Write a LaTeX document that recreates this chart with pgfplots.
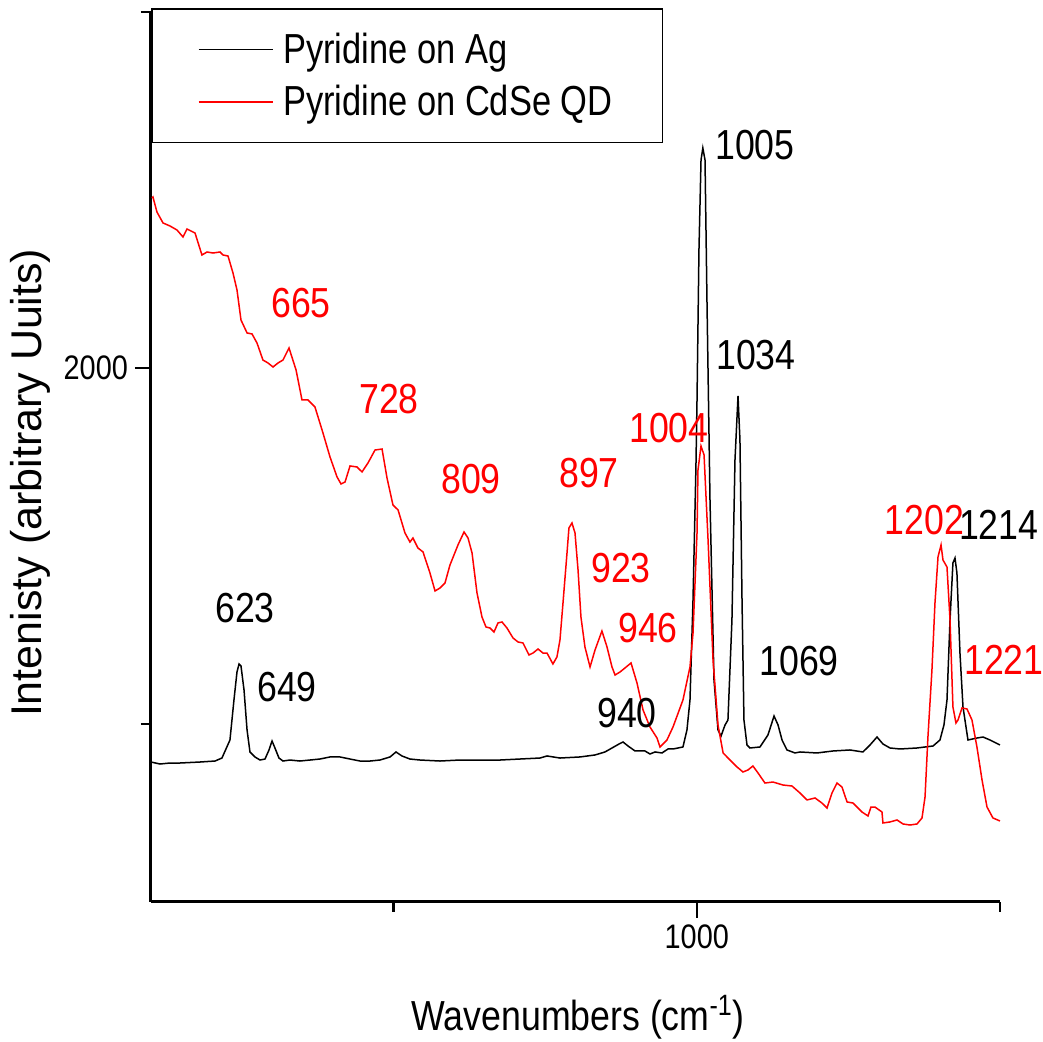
\documentclass[border=0pt]{standalone}
\usepackage{pgfplots}
\pgfplotsset{compat=1.18}
\usepackage{fontspec}
\setmainfont{Liberation Sans}[FakeStretch=0.85]
\newfontfamily\legfont{Liberation Sans}[FakeStretch=0.82]
\newfontfamily\ylabfont{Liberation Sans}

\definecolor{specred}{RGB}{255,0,0}

% Raman spectra of pyridine on Ag and on CdSe quantum dots
\pgfplotstableread{
x y
550.0 1446.6
557.4 1443.8
565.7 1445.2
573.9 1445.2
590.4 1446.6
602.8 1448.0
608.5 1452.2
615.1 1477.5
618.4 1533.7
620.9 1573.0
622.6 1584.3
624.2 1581.5
626.7 1547.8
629.2 1491.6
631.6 1460.7
635.7 1453.7
639.9 1449.4
644.0 1450.8
647.3 1463.5
649.8 1476.1
652.2 1466.3
655.5 1452.2
658.8 1448.0
664.6 1449.4
672.8 1448.0
681.1 1449.4
689.3 1450.8
697.6 1453.7
705.8 1453.7
714.1 1450.8
722.3 1448.0
730.6 1448.0
738.8 1449.4
747.1 1453.7
752.0 1460.7
756.9 1455.1
763.5 1450.8
771.8 1449.4
788.3 1448.0
804.8 1449.4
821.3 1449.4
837.8 1449.4
854.2 1450.8
870.7 1452.2
876.5 1455.1
887.2 1452.2
903.7 1453.7
916.1 1456.5
924.3 1460.7
930.1 1466.3
935.9 1471.9
939.2 1474.7
943.3 1469.1
949.1 1462.1
957.3 1462.1
961.4 1457.9
965.6 1460.7
971.3 1459.3
976.3 1464.9
980.4 1464.9
988.6 1467.7
991.9 1491.6
994.4 1533.7
996.9 1674.2
999.3 1861.0
1000.2 1955.1
1001.8 2165.7
1003.5 2292.1
1005.0 2309.0
1006.8 2292.1
1008.4 2095.5
1010.9 1814.6
1014.2 1561.8
1017.5 1491.6
1020.0 1483.1
1023.3 1498.6
1025.7 1505.6
1029.0 1646.1
1031.5 1870.8
1034.0 1960.7
1035.6 1898.9
1037.3 1674.2
1038.9 1505.6
1041.4 1470.5
1043.9 1466.3
1052.1 1467.7
1058.7 1484.6
1063.7 1511.2
1067.0 1498.6
1070.3 1477.5
1074.4 1463.5
1081.0 1459.3
1085.1 1460.7
1099.1 1459.3
1112.3 1462.1
1126.3 1463.5
1137.0 1460.7
1142.8 1470.5
1148.6 1481.7
1153.5 1471.9
1159.3 1466.3
1167.6 1464.9
1181.6 1466.3
1194.8 1469.1
1200.5 1477.5
1203.8 1498.6
1206.3 1533.7
1208.8 1646.1
1211.2 1726.1
1212.9 1733.1
1214.5 1712.1
1217.0 1599.7
1219.5 1523.9
1223.6 1477.5
1231.0 1480.3
1236.0 1481.7
1241.8 1477.5
1250.0 1470.5
}\agdata

\pgfplotstableread{
x y
550.8 2238.8
551.6 2240.2
554.9 2219.1
559.9 2203.7
565.7 2199.4
571.4 2193.8
576.4 2184.0
579.7 2195.2
586.3 2189.6
592.0 2158.7
596.2 2162.9
601.1 2161.5
606.9 2162.9
609.4 2158.7
613.5 2157.3
617.6 2133.4
620.9 2109.6
624.2 2067.4
629.2 2049.2
633.3 2047.8
637.4 2035.1
642.3 2011.2
646.5 2007.0
650.6 2001.4
654.7 2007.0
658.8 2011.2
663.8 2028.1
669.6 1997.2
674.5 1955.1
679.4 1955.1
685.2 1945.2
691.8 1908.7
697.6 1875.0
703.4 1846.9
706.7 1837.1
710.0 1839.9
714.1 1862.4
719.8 1861.0
724.0 1854.0
728.9 1866.6
734.7 1884.8
740.5 1886.2
744.6 1845.5
749.5 1807.6
753.7 1800.6
759.4 1768.3
763.5 1755.6
766.0 1761.2
770.1 1747.2
774.3 1741.6
780.0 1712.1
784.2 1686.8
788.3 1691.0
792.4 1698.0
796.5 1723.3
803.1 1751.4
808.1 1769.7
811.4 1761.2
814.7 1740.2
818.8 1684.0
822.9 1650.3
826.2 1636.2
829.5 1634.8
832.8 1629.2
836.1 1641.9
839.4 1643.3
843.5 1634.8
848.5 1620.8
852.6 1615.2
856.7 1613.8
861.7 1596.9
865.0 1599.7
869.1 1605.3
873.2 1599.7
876.5 1599.7
881.4 1584.3
884.7 1594.1
887.2 1618.0
889.7 1670.0
893.0 1740.2
894.6 1775.3
897.1 1782.3
899.6 1768.3
902.1 1716.3
904.5 1650.3
907.8 1608.1
912.0 1580.1
916.1 1603.9
921.8 1630.6
926.0 1608.1
930.1 1580.1
932.6 1568.8
936.7 1573.0
940.8 1578.7
945.8 1585.7
950.7 1557.6
955.7 1519.7
961.4 1495.8
967.2 1480.3
969.7 1467.7
975.4 1477.5
980.4 1495.8
988.6 1533.7
994.4 1580.1
996.9 1627.8
1000.2 1768.3
1001.0 1856.7
1003.5 1890.4
1006.0 1877.8
1009.3 1758.4
1013.4 1589.9
1017.5 1498.6
1021.7 1459.3
1027.4 1449.4
1033.2 1439.6
1038.1 1432.6
1042.2 1435.4
1046.3 1441.0
1050.5 1431.2
1056.2 1417.1
1062.8 1418.5
1071.1 1414.3
1078.5 1412.9
1085.1 1403.1
1090.9 1393.3
1097.5 1396.1
1103.2 1389.0
1107.4 1382.0
1111.5 1403.1
1115.6 1417.1
1119.7 1411.5
1123.9 1390.5
1128.8 1389.0
1136.2 1376.4
1141.2 1370.8
1143.6 1383.4
1146.9 1383.4
1152.7 1376.4
1153.5 1361.0
1159.3 1362.4
1165.1 1365.2
1170.0 1359.6
1175.8 1358.1
1181.6 1359.6
1185.7 1368.0
1188.2 1397.5
1190.6 1481.7
1193.9 1575.8
1196.4 1670.0
1198.9 1734.6
1201.4 1751.4
1203.0 1730.3
1206.3 1720.5
1208.8 1646.1
1211.2 1523.9
1213.7 1501.4
1215.4 1505.6
1218.7 1522.5
1222.8 1521.1
1226.9 1505.6
1231.0 1467.7
1235.2 1421.3
1239.3 1383.4
1244.2 1368.0
1250.0 1363.8
}\cdsedata

\begin{document}
\begin{tikzpicture}
\path[use as bounding box] (-75.5pt,-70pt) rectangle (446pt,451pt);
\begin{axis}[
  at={(0,0)}, anchor=south west,
  scale only axis, width=424.5pt, height=445pt,
  xmin=550, xmax=1250, ymin=1250, ymax=2500,
  axis x line*=bottom, axis y line*=left,
  axis line style={line width=1.5pt, black},
  xtick={1000}, minor xtick={750,1250},
  ytick={2000}, minor ytick={1500,2500},
  tick align=outside,
  major tick length=8pt, minor tick length=5pt,
  every tick/.style={line width=1.2pt, black},
  /pgf/number format/assume math mode=true,
  /pgf/number format/1000 sep={},
  ticklabel style={font=\fontsize{17}{19}\selectfont},
  xlabel={Wavenumbers (cm\textsuperscript{-1})},
  ylabel={Intenisty (arbitrary Uuits)},
  xlabel style={font=\fontsize{21}{25}\selectfont,
    at={(axis description cs:0.503,-0.130)}, anchor=center},
  ylabel style={font=\ylabfont\fontsize{21.5}{25}\selectfont,
    at={(axis description cs:-0.1425,0.471)}, anchor=center},
  clip=false,
  legend cell align=left,
  legend image code/.code={\draw[#1] (0pt,0pt) -- (37pt,0pt);},
  legend style={at={(axis description cs:0,1.0045)}, anchor=north west,
    draw=black, line width=0.8pt, fill=white,
    font=\legfont\fontsize{21}{25}\selectfont,
    inner xsep=23pt, inner ysep=10pt, row sep=5.5pt,
    /tikz/every odd column/.append style={column sep=3pt}},
]
\addplot[black, line width=0.75pt] table[x=x, y=y] {\agdata};
\addlegendentry{Pyridine on Ag}
\addplot[specred, line width=0.75pt] table[x=x, y=y] {\cdsedata};
\addlegendentry{Pyridine on CdSe QD}

\begin{scope}[every node/.style={font=\fontsize{21}{25}\selectfont}]
\node[specred] at (axis cs:673.7,2091.3) {665};
\node[specred] at (axis cs:746.2,1956.5) {728};
\node[specred] at (axis cs:813.8,1844.1) {809};
\node[specred] at (axis cs:911.1,1852.5) {897};
\node[specred] at (axis cs:937.5,1719.1) {923};
\node[specred] at (axis cs:959.8,1634.8) {946};
\node[specred] at (axis cs:977.1,1915.7) {1004};
\node[specred] at (axis cs:1187.5,1786.5) {1202};
\node[specred] at (axis cs:1253.3,1589.9) {1221};
\node[black] at (axis cs:1048.0,2313.2) {1005};
\node[black] at (axis cs:1048.8,2018.3) {1034};
\node[black] at (axis cs:627.5,1662.9) {623};
\node[black] at (axis cs:662.1,1552.0) {649};
\node[black] at (axis cs:942.5,1515.5) {940};
\node[black] at (axis cs:1084.3,1588.5) {1069};
\node[black] at (axis cs:1249.0,1779.5) {1214};
\end{scope}
\end{axis}
\end{tikzpicture}
\end{document}
